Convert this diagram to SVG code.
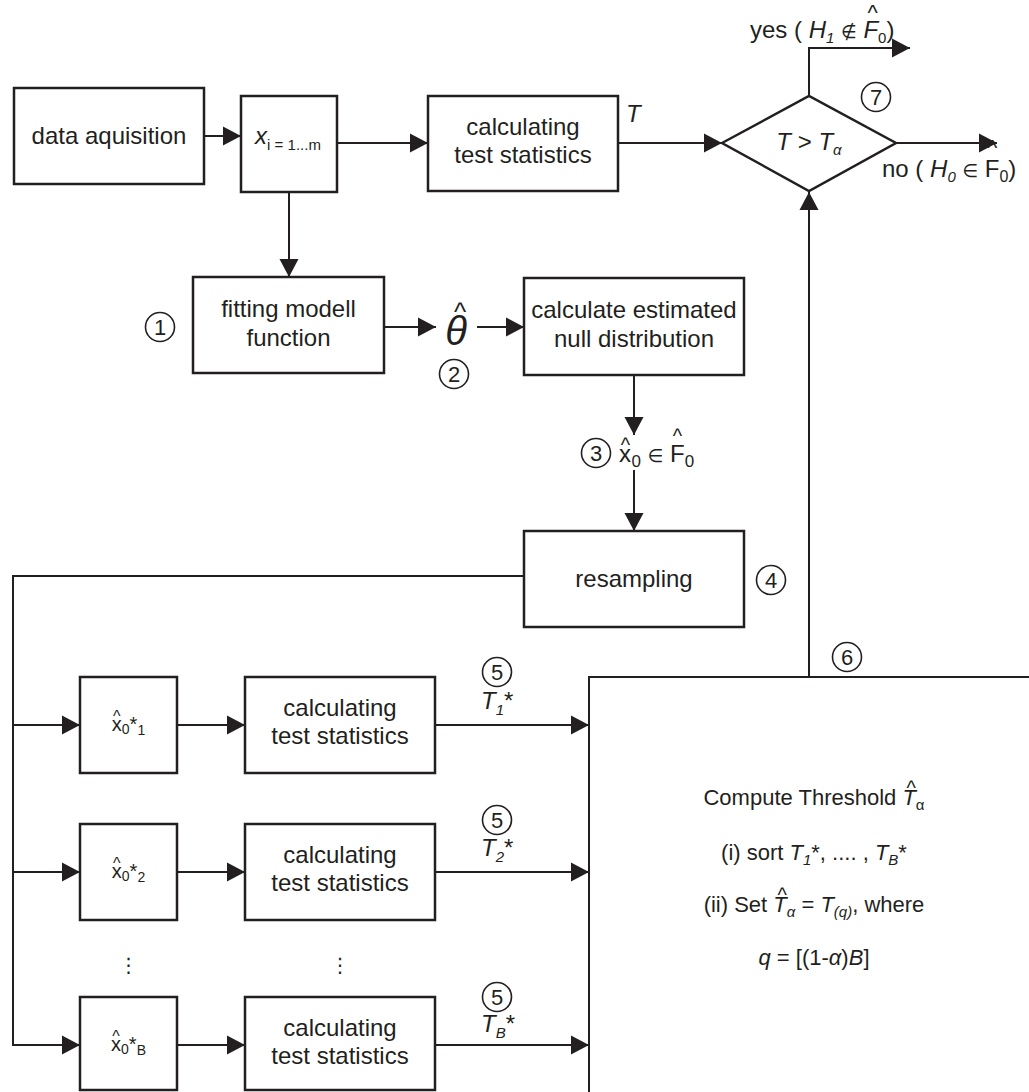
<svg xmlns="http://www.w3.org/2000/svg" width="1029" height="1092" viewBox="0 0 1029 1092">
<style>
.bx{fill:#fff;stroke:#231f20;stroke-width:2.5}
.cn{fill:none;stroke:#231f20;stroke-width:2}
.ar{marker-end:url(#ah)}
.ci{fill:none;stroke:#231f20;stroke-width:1.6}
.t{font-family:"Liberation Sans",Arial,sans-serif;fill:#231f20}
.l{font-size:24px}
.m{font-size:22px}
.mid{text-anchor:middle}
.i{font-style:italic}
.sy{font-family:"DejaVu Sans","Liberation Sans",sans-serif}
</style>
<defs>
<marker id="ah" markerUnits="userSpaceOnUse" markerWidth="20" markerHeight="20" viewBox="0 0 20 20" refX="18" refY="10" orient="auto">
<path d="M0,0.5 L18,10 L0,19.5 z" fill="#231f20"/>
</marker>
</defs>
<rect width="1029" height="1092" fill="#fff"/>

<g id="connectors">
<path class="cn ar" d="M204,136 H241"/>
<path class="cn ar" d="M337,143 H428"/>
<path class="cn ar" d="M618,143 H722"/>
<path class="cn ar" d="M809,96 V48 H910"/>
<path class="cn ar" d="M896,143 H997"/>
<path class="cn ar" d="M289,192 V277"/>
<path class="cn ar" d="M384,327 H436"/>
<path class="cn ar" d="M477,327 H524"/>
<path class="cn ar" d="M634,375 V435"/>
<path class="cn ar" d="M634,470 V531"/>
<path class="cn ar" d="M524,576 H13 V1045 H80"/>
<path class="cn ar" d="M13,725 H80"/>
<path class="cn ar" d="M13,872 H80"/>
<path class="cn ar" d="M177,725 H245"/>
<path class="cn ar" d="M177,872 H245"/>
<path class="cn ar" d="M177,1045 H245"/>
<path class="cn ar" d="M435,725 H589"/>
<path class="cn ar" d="M435,872 H589"/>
<path class="cn ar" d="M435,1045 H589"/>
<path class="cn ar" d="M809,677 V192"/>
</g>

<g id="data-acquisition">
<rect class="bx" x="14" y="88" width="190" height="96"/>
<text class="t l mid" x="109" y="144">data aquisition</text>
</g>

<g id="samples">
<rect class="bx" x="241" y="96" width="96" height="96"/>
<text class="t mid" x="288" y="144" font-size="24"><tspan class="i">x</tspan><tspan font-size="15" dy="6">i = 1...m</tspan></text>
</g>

<g id="calc-test-stat">
<rect class="bx" x="428" y="96" width="190" height="95"/>
<text class="t l mid" x="523" y="135">calculating</text>
<text class="t l mid" x="523" y="163">test statistics</text>
<text class="t l i" x="626" y="122">T</text>
</g>

<g id="decision">
<polygon class="bx" points="722,143 809,96 896,143 809,191"/>
<text class="t l mid" x="809" y="150"><tspan class="i">T</tspan> &gt; <tspan class="i">T</tspan><tspan class="i" font-size="15" dy="5">α</tspan></text>
<circle class="ci" cx="876" cy="97" r="14.5"/>
<text class="t m mid" x="876" y="105">7</text>
<text class="t l" x="750" y="38">yes ( <tspan class="i">H</tspan><tspan class="i" font-size="15" dy="5">1</tspan><tspan dy="-5"> </tspan><tspan class="sy" font-size="18">∉</tspan> <tspan class="i">F</tspan><tspan font-size="22" dx="-10.5" dy="-18">^</tspan><tspan font-size="15" dx="0.2" dy="23">0</tspan><tspan dy="-5">)</tspan></text>
<text class="t l" x="882" y="177">no ( <tspan class="i">H</tspan><tspan class="i" font-size="15" dy="5">0</tspan><tspan dy="-5"> </tspan><tspan class="sy" font-size="18">∈</tspan> F<tspan font-size="22" dx="-12.5" dy="-22">^</tspan><tspan font-size="16" dx="2.2" dy="27">0</tspan><tspan dy="-5">)</tspan></text>
</g>

<g id="fitting">
<rect class="bx" x="193" y="277" width="191" height="96"/>
<text class="t l mid" x="288.5" y="317">fitting modell</text>
<text class="t l mid" x="288.5" y="346">function</text>
<circle class="ci" cx="160" cy="327" r="14.5"/>
<text class="t m mid" x="160" y="335">1</text>
</g>

<g id="theta">
<text class="t i mid" x="456" y="345" font-size="40">θ</text>
<text class="t mid" x="460" y="321" font-size="26">^</text>
<circle class="ci" cx="454" cy="374" r="14.5"/>
<text class="t m mid" x="454" y="382">2</text>
</g>

<g id="null-dist">
<rect class="bx" x="524" y="278" width="220" height="97"/>
<text class="t l mid" x="634" y="318">calculate estimated</text>
<text class="t l mid" x="634" y="347">null distribution</text>
</g>

<g id="x0-label">
<circle class="ci" cx="596" cy="453" r="14.5"/>
<text class="t m mid" x="596" y="461">3</text>
<text class="t l" x="619" y="462">x<tspan font-size="20" dx="-10.2" dy="-10">^</tspan><tspan font-size="17" dx="1.3" dy="15">0</tspan><tspan dy="-5"> </tspan><tspan class="sy" font-size="18">∈</tspan> F<tspan font-size="20" dx="-12" dy="-19">^</tspan><tspan font-size="17" dx="2.6" dy="24">0</tspan></text>
</g>

<g id="resampling">
<rect class="bx" x="524" y="531" width="220" height="96"/>
<text class="t l mid" x="634" y="587">resampling</text>
<circle class="ci" cx="771" cy="580" r="14.5"/>
<text class="t m mid" x="771" y="588">4</text>
</g>

<g id="sample-1">
<rect class="bx" x="80" y="677" width="97" height="96"/>
<text class="t mid" x="128.5" y="731" font-size="20">x<tspan font-size="16" dx="-8.75" dy="-9">^</tspan><tspan font-size="14" dx="1.25" dy="12">0</tspan><tspan dy="-3">*</tspan><tspan font-size="14" dy="4">1</tspan></text>
</g>
<g id="calc-1">
<rect class="bx" x="245" y="677" width="190" height="96"/>
<text class="t l mid" x="340" y="716">calculating</text>
<text class="t l mid" x="340" y="744">test statistics</text>
<circle class="ci" cx="497" cy="672" r="14.5"/>
<text class="t m mid" x="497" y="680">5</text>
<text class="t l" x="481" y="709"><tspan class="i">T</tspan><tspan class="i" font-size="15" dy="6">1</tspan><tspan dy="-6">*</tspan></text>
</g>

<g id="sample-2">
<rect class="bx" x="80" y="824" width="97" height="96"/>
<text class="t mid" x="128.5" y="878" font-size="20">x<tspan font-size="16" dx="-8.75" dy="-9">^</tspan><tspan font-size="14" dx="1.25" dy="12">0</tspan><tspan dy="-3">*</tspan><tspan font-size="14" dy="4">2</tspan></text>
</g>
<g id="calc-2">
<rect class="bx" x="245" y="824" width="190" height="96"/>
<text class="t l mid" x="340" y="863">calculating</text>
<text class="t l mid" x="340" y="891">test statistics</text>
<circle class="ci" cx="497" cy="820" r="14.5"/>
<text class="t m mid" x="497" y="828">5</text>
<text class="t l" x="481" y="856"><tspan class="i">T</tspan><tspan class="i" font-size="15" dy="6">2</tspan><tspan dy="-6">*</tspan></text>
</g>

<g id="ellipsis">
<text class="t sy mid" x="128.5" y="972" font-size="20">⋮</text>
<text class="t sy mid" x="340" y="972" font-size="20">⋮</text>
</g>

<g id="sample-B">
<rect class="bx" x="80" y="997" width="97" height="93"/>
<text class="t mid" x="128.5" y="1051" font-size="20">x<tspan font-size="16" dx="-8.75" dy="-9">^</tspan><tspan font-size="14" dx="1.25" dy="12">0</tspan><tspan dy="-3">*</tspan><tspan font-size="14" dy="4">B</tspan></text>
</g>
<g id="calc-B">
<rect class="bx" x="245" y="997" width="190" height="93"/>
<text class="t l mid" x="340" y="1036">calculating</text>
<text class="t l mid" x="340" y="1064">test statistics</text>
<circle class="ci" cx="497" cy="997" r="14.5"/>
<text class="t m mid" x="497" y="1005">5</text>
<text class="t l" x="481" y="1032"><tspan class="i">T</tspan><tspan class="i" font-size="15" dy="6">B</tspan><tspan dy="-6">*</tspan></text>
</g>

<g id="threshold">
<path class="cn" d="M1031,677 H589 V1094" stroke-width="2.5"/>
<circle class="ci" cx="847" cy="657" r="14.5"/>
<text class="t m mid" x="847" y="665">6</text>
<text class="t m mid" x="814" y="805">Compute Threshold <tspan class="i">T</tspan><tspan font-size="20" dx="-9.4" dy="-10.5">^</tspan><tspan font-size="15" dy="15.5">α</tspan></text>
<text class="t m mid" x="814" y="860">(i) sort <tspan class="i">T</tspan><tspan class="i" font-size="15" dy="5">1</tspan><tspan dy="-5">*, .... , </tspan><tspan class="i">T</tspan><tspan class="i" font-size="15" dy="5">B</tspan><tspan dy="-5">*</tspan></text>
<text class="t m mid" x="814" y="912">(ii) Set <tspan class="i">T</tspan><tspan font-size="20" dx="-9.4" dy="-10.5">^</tspan><tspan class="i" font-size="15" dy="15.5">α</tspan><tspan dy="-5"> = </tspan><tspan class="i">T</tspan><tspan class="i" font-size="15" dy="5">(q)</tspan><tspan dy="-5">, where</tspan></text>
<text class="t m mid" x="814" y="965"><tspan class="i">q</tspan> = [(1-<tspan class="i">α</tspan>)<tspan class="i">B</tspan>]</text>
</g>
</svg>
